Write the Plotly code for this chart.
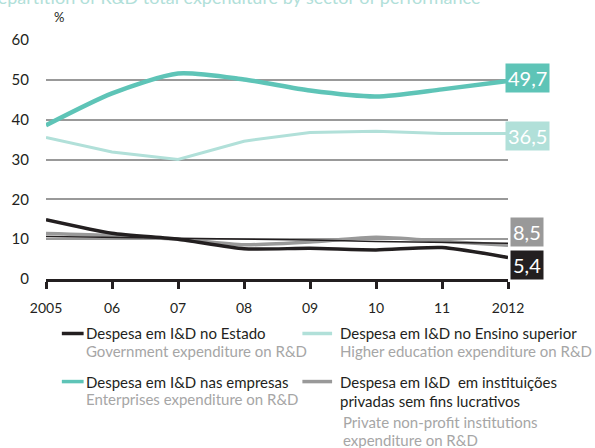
import plotly.graph_objects as go

# Anos e rótulos do eixo horizontal
anos = [2005, 2006, 2007, 2008, 2009, 2010, 2011, 2012]
rotulos_anos = ["2005", "06", "07", "08", "09", "10", "11", "2012"]

# Repartição da despesa total em I&D por setor de execução (%)
estado = [14.9, 11.5, 10.0, 7.6, 7.7, 7.3, 7.9, 5.4]
empresas = [38.6, 46.6, 51.6, 50.1, 47.3, 45.8, 47.6, 49.7]
ensino_superior = [35.5, 31.9, 30.0, 34.6, 36.8, 37.1, 36.5, 36.5]
ipsfl = [11.4, 10.9, 10.0, 8.6, 9.3, 10.5, 9.5, 8.5]
linha_fina = [10.7, 10.5, 10.3, 10.0, 9.8, 9.4, 9.2, 9.0]

marcas_y = [0, 10, 20, 30, 40, 50, 60]

PRETO = "#231f20"
TEAL = "#5ec4b7"
TEAL_CLARO = "#b1e0d9"
CINZA = "#999999"
CINZA_TXT = "#a6a6a6"
FONTE = "Lato, 'Open Sans', sans-serif"

W, H = 595, 448
ML, MR, MT, MB = 41, 87.3, 40, 169.4
PW, PH = W - ML - MR, H - MT - MB


def px(x):
    return (x - ML) / PW


def py(y):
    return (H - MB - y) / PH


fig = go.Figure()

fig.add_trace(go.Scatter(x=anos, y=ipsfl, mode="lines", line=dict(color=CINZA, width=3.5, shape="spline", smoothing=0.6), hoverinfo="skip"))
fig.add_trace(go.Scatter(x=anos, y=linha_fina, mode="lines", line=dict(color=PRETO, width=1.5), hoverinfo="skip"))
fig.add_trace(go.Scatter(x=anos, y=ensino_superior, mode="lines", line=dict(color=TEAL_CLARO, width=3), hoverinfo="skip"))
fig.add_trace(go.Scatter(x=anos, y=estado, mode="lines", line=dict(color=PRETO, width=3.5, shape="spline", smoothing=0.6), hoverinfo="skip"))
fig.add_trace(go.Scatter(x=anos, y=empresas, mode="lines", line=dict(color=TEAL, width=4.5, shape="spline", smoothing=0.7), hoverinfo="skip"))


def fmt(v):
    return f"{v:.1f}".replace(".", ",")


anotacoes = []

# Caixas com o valor final de cada série
caixas = [
    (empresas[-1], TEAL, 50.5),
    (ensino_superior[-1], TEAL_CLARO, 35.9),
    (ipsfl[-1], CINZA, 11.9),
    (estado[-1], PRETO, 3.4),
]
for valor, cor, ypos in caixas:
    anotacoes.append(dict(
        x=anos[-1], y=ypos, xref="x", yref="y", text=fmt(valor), showarrow=False,
        xanchor="center", yanchor="middle", xshift=19,
        bgcolor=cor, borderpad=2, font=dict(family=FONTE, size=20, color="white"),
    ))

# Título (parcialmente fora do topo) e unidade
anotacoes.append(dict(
    x=px(482), y=py(-3), xref="paper", yref="paper", xanchor="right", yanchor="middle",
    text="Repartition of R&D total expenditure by sector of performance", showarrow=False,
    font=dict(family=FONTE, size=18, color=TEAL_CLARO),
))
anotacoes.append(dict(
    x=px(47), y=py(17), xref="paper", yref="paper", xanchor="left", yanchor="middle",
    text="%", showarrow=False, font=dict(family=FONTE, size=13, color=PRETO),
))

# Legenda: (x0, x1, y da linha, cor, x do texto, linhas de texto (texto, y, cor, recuo))
legenda = [
    (57, 79, 333, PRETO, 79, [("Despesa em I&D no Estado", 333, PRETO, 0),
                              ("Government expenditure on R&D", 350, CINZA_TXT, 0)]),
    (57, 79, 381, TEAL, 79, [("Despesa em I&D nas empresas", 381, PRETO, 0),
                             ("Enterprises expenditure on R&D", 398, CINZA_TXT, 0)]),
    (300, 330, 333, TEAL_CLARO, 336, [("Despesa em I&D no Ensino superior", 333, PRETO, 0),
                                      ("Higher education expenditure on R&D", 350, CINZA_TXT, 0)]),
    (300, 330, 381, CINZA, 336, [("Despesa em I&D  em instituições", 381, PRETO, 0),
                                 ("privadas sem fins lucrativos", 400, PRETO, 0),
                                 ("Private non-profit institutions", 421, CINZA_TXT, 3),
                                 ("expenditure on R&D", 439, CINZA_TXT, 3)]),
]
formas = []
for x0, x1, yl, cor, xt, linhas in legenda:
    formas.append(dict(type="line", xref="paper", yref="paper", x0=px(x0), x1=px(x1), y0=py(yl), y1=py(yl),
                       line=dict(color=cor, width=3.5)))
    for t, y, c, recuo in linhas:
        anotacoes.append(dict(x=px(xt + recuo), y=py(y), xref="paper", yref="paper", xanchor="left",
                              yanchor="middle", text=t, showarrow=False,
                              font=dict(family=FONTE, size=15, color=c)))

fig.update_layout(
    width=W, height=H,
    margin=dict(l=ML, r=MR, t=MT, b=MB, pad=0),
    paper_bgcolor="white", plot_bgcolor="white",
    showlegend=False,
    annotations=anotacoes,
    shapes=formas,
    xaxis=dict(
        range=[anos[0], anos[-1]], tickvals=anos, ticktext=rotulos_anos,
        showgrid=False, zeroline=False, showline=True, linecolor=PRETO, linewidth=2.5,
        ticks="outside", ticklen=7, tickwidth=2.5, tickcolor=PRETO,
        ticklabelstandoff=7,
        tickfont=dict(family=FONTE, size=14, color=PRETO),
    ),
    yaxis=dict(
        range=[0, 60], tickvals=marcas_y,
        showgrid=True, gridcolor=CINZA, gridwidth=2, zeroline=False, showline=False,
        ticks="", ticklabelstandoff=16,
        tickfont=dict(family=FONTE, size=15, color=PRETO),
    ),
)

fig.write_html("out.html")
